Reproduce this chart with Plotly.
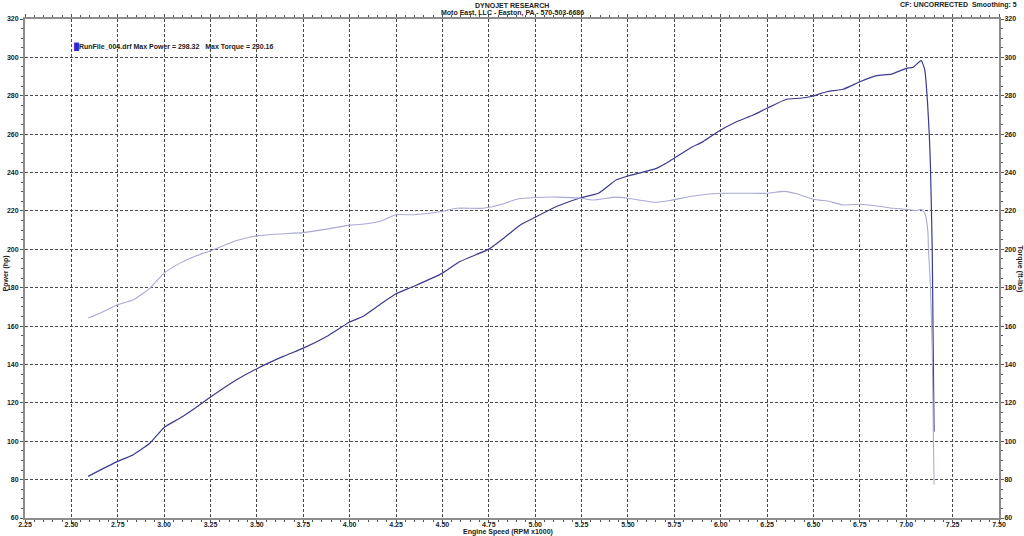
import plotly.graph_objects as go

# ---- data ----
rpm_power = [2.59, 2.66, 2.75, 2.834, 2.924, 3.00, 3.086, 3.17, 3.25, 3.39, 3.50, 3.642, 3.75,
             3.876, 4.00, 4.07, 4.16, 4.25, 4.343, 4.50, 4.594, 4.75, 4.83, 4.92, 5.00, 5.115,
             5.25, 5.34, 5.438, 5.50, 5.654, 5.726, 5.75, 5.834, 5.905, 6.00, 6.085, 6.175, 6.25,
             6.355, 6.427, 6.50, 6.57, 6.66, 6.75, 6.84, 6.92, 7.00, 7.036, 7.08, 7.10, 7.115,
             7.125, 7.13, 7.14, 7.145, 7.15]
power_hp = [81.7, 85.2, 89.5, 93.0, 99.1, 107.2, 112.1, 117.5, 123.0, 132.0, 137.8, 144.2, 148.5,
            154.6, 162.1, 165.0, 171.0, 176.8, 180.6, 187.6, 193.6, 200.1, 205.8, 212.7, 216.7, 222.3,
            227.0, 229.2, 236.2, 238.2, 242.2, 246.0, 247.5, 252.7, 256.1, 262.2, 266.5, 270.0, 273.5,
            278.2, 278.7, 279.9, 282.1, 283.4, 287.3, 290.5, 291.3, 294.3, 294.8, 298.3, 293.4, 276.0,
            258.0, 245.0, 200.0, 152.0, 105.0]

rpm_torque = [2.59, 2.66, 2.75, 2.834, 2.924, 3.00, 3.086, 3.17, 3.25, 3.39, 3.50, 3.62, 3.75,
              3.876, 4.00, 4.056, 4.16, 4.25, 4.343, 4.50, 4.577, 4.72, 4.83, 4.90, 5.00, 5.115,
              5.25, 5.31, 5.438, 5.50, 5.654, 5.726, 5.85, 6.00, 6.14, 6.25, 6.345, 6.41, 6.50,
              6.587, 6.66, 6.75, 6.84, 6.93, 7.00, 7.055, 7.08, 7.10, 7.116, 7.12, 7.13, 7.14,
              7.145, 7.15]
torque_ftlb = [164.2, 167.0, 171.1, 173.7, 179.8, 187.6, 192.8, 196.5, 199.2, 204.6, 207.0, 208.0, 208.7,
               210.5, 212.6, 212.9, 214.5, 218.0, 218.0, 219.7, 221.4, 221.4, 223.7, 226.1, 227.0, 227.2,
               226.6, 225.7, 227.2, 226.6, 224.5, 225.4, 227.8, 229.2, 229.2, 229.2, 230.16, 228.9, 226.1,
               224.9, 223.1, 223.5, 222.6, 221.4, 220.9, 220.2, 220.9, 218.8, 210.0, 199.7, 182.0, 147.7,
               113.0, 77.4]

x_range = [2.25, 7.50]
y_range = [60, 320]

title_line1 = "DYNOJET RESEARCH"
title_line2 = "Moto East, LLC - Easton, PA - 570-503-6686"
corner_text = "CF: UNCORRECTED  Smoothing: 5"
legend_text = "RunFile_004.drf Max Power = 298.32 &nbsp;&nbsp;Max Torque = 230.16"

POWER_COLOR = "#3b3b8f"
TORQUE_COLOR = "#a9a9d6"
GRID_COLOR = "#4a4a4a"
AXIS_COLOR = "#8c8c8c"
FONT = "Liberation Sans"
TXT = "#222222"

fig = go.Figure()
fig.add_trace(go.Scatter(x=rpm_power, y=power_hp, mode="lines", name="Power",
                         line=dict(color=POWER_COLOR, width=1.2, shape="spline", smoothing=0.5),
                         showlegend=False))
fig.add_trace(go.Scatter(x=rpm_torque, y=torque_ftlb, mode="lines", name="Torque", yaxis="y2",
                         line=dict(color=TORQUE_COLOR, width=1.1, shape="spline", smoothing=0.5),
                         showlegend=False))

tickfont = dict(family=FONT, size=7, color=TXT, weight="bold")
common = dict(showline=True, linecolor=AXIS_COLOR, linewidth=2, zeroline=False,
              ticks="outside", ticklen=3, tickcolor="#555", tickwidth=1, tickfont=tickfont)

fig.update_layout(
    width=1024, height=536,
    margin=dict(l=25, r=25, t=19, b=18, autoexpand=False),
    paper_bgcolor="white", plot_bgcolor="white",
    xaxis=dict(range=x_range, dtick=0.25, tick0=2.25, tickformat=".2f",
               showgrid=True, gridcolor=GRID_COLOR, griddash="3px,2px", gridwidth=1,
               mirror="ticks", ticklabelstandoff=-4,
               minor=dict(dtick=0.05, ticks="outside", ticklen=2, tickcolor="#555", showgrid=False),
               **common),
    yaxis=dict(range=y_range, dtick=20, tick0=60,
               showgrid=True, gridcolor=GRID_COLOR, griddash="3px,2px", gridwidth=1,
               minor=dict(dtick=5, ticks="outside", ticklen=2, tickcolor="#555", showgrid=False),
               **common),
    yaxis2=dict(range=y_range, dtick=20, tick0=60, overlaying="y", side="right", showgrid=False,
                ticklabelstandoff=-1,
                minor=dict(dtick=5, ticks="outside", ticklen=2, tickcolor="#555", showgrid=False),
                **common),
)

afont = dict(family=FONT, size=7, color=TXT, weight="bold")
ann = [
    dict(text=title_line1, x=0.5, y=1, xref="paper", yref="paper", xanchor="center", yanchor="middle",
         yshift=14, showarrow=False, font=afont),
    dict(text=title_line2, x=0.5, y=1, xref="paper", yref="paper", xanchor="center", yanchor="middle",
         yshift=6, showarrow=False, font=afont),
    dict(text=corner_text, x=1, y=1, xref="paper", yref="paper", xanchor="right", yanchor="middle",
         xshift=20, yshift=14, showarrow=False, font=afont),
    dict(text="Engine Speed (RPM x1000)", x=0.496, y=0, xref="paper", yref="paper",
         xanchor="center", yanchor="middle", yshift=-14, showarrow=False, font=afont),
    dict(text="Power (hp)", x=0, y=0.49, xref="paper", yref="paper", xanchor="center",
         yanchor="middle", xshift=-19, textangle=-90, showarrow=False, font=afont),
    dict(text="Torque (ft-lbs)", x=1, y=0.50, xref="paper", yref="paper", xanchor="center",
         yanchor="middle", xshift=21, textangle=90, showarrow=False, font=afont),
    dict(text="<span style='color:#2a2ad0'>█</span>" + legend_text, x=(72 - 25) / 974.5, y=1,
         xref="paper", yref="paper", xanchor="left", yanchor="middle", yshift=-28,
         showarrow=False, font=afont),
]
fig.update_layout(annotations=ann)

fig.write_html("out.html", config={"displayModeBar": False},
               post_script="document.body.style.margin='0';document.body.style.overflow='hidden';")
